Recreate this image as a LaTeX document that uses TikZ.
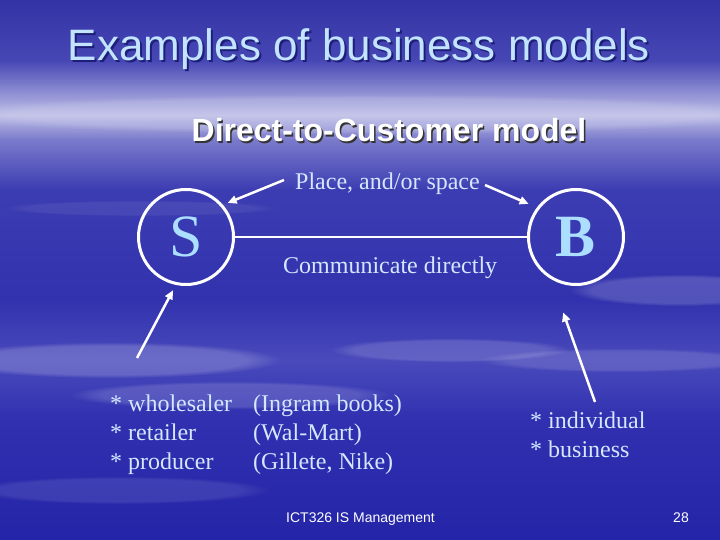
\documentclass[tikz,border=0pt]{standalone}
\usepackage{fontspec}
\setmainfont{Liberation Serif}
\newfontfamily\arialf{Liberation Sans}
\usetikzlibrary{arrows.meta,fadings}
\definecolor{skytop}{HTML}{3333A6}
\definecolor{skyA}{HTML}{4646B4}
\definecolor{skyB}{HTML}{9494D6}
\definecolor{skyC}{HTML}{BCBCE6}
\definecolor{skyD}{HTML}{7A7ACC}
\definecolor{skyE}{HTML}{3C3CB2}
\definecolor{skyF}{HTML}{3232AE}
\definecolor{skyG}{HTML}{4A4ABC}
\definecolor{skyH}{HTML}{3030B0}
\definecolor{skybot}{HTML}{2424A8}
\definecolor{textblue}{HTML}{D2E8FF}
\definecolor{letterblue}{HTML}{ACDEFF}
\definecolor{titleblue}{HTML}{C2E4FF}
\definecolor{titleshadow}{HTML}{1E1E78}
\pgfdeclareverticalshading{sky}{100bp}{color(0bp)=(skybot); color(25bp)=(skybot); color(36.11bp)=(skyH); color(41.67bp)=(skyG); color(47.22bp)=(skyF); color(57.41bp)=(skyE); color(62.04bp)=(skyD); color(64.35bp)=(skyC); color(66.2bp)=(skyB); color(69.44bp)=(skyA); color(75bp)=(skytop); color(100bp)=(skytop)}
\tikzset{
	titletext/.style={font=\arialf\fontsize{44}{50}\selectfont, text=titleblue, inner sep=0pt, anchor=base},
	headtext/.style={font=\arialf\bfseries\fontsize{32}{36}\selectfont, text=white, inner sep=0pt, anchor=base},
	slidetext/.style={font=\fontsize{24}{28.8}\selectfont, text=textblue, inner sep=0pt, anchor=base west, align=left},
	party/.style={circle, draw=white, line width=3pt, minimum size=95pt, inner sep=0pt, text=letterblue, font=\fontsize{60}{60}\selectfont},
	link/.style={draw=white, line width=2.5pt},
	pointer/.style={draw=white, line width=2.5pt, -{Triangle[length=9pt,width=8pt]}},
	cloud/.style={fill=white, path fading=circle with fuzzy edge 20 percent}
}
\begin{document}
\begin{tikzpicture}[x=1pt,y=-1pt]
	\useasboundingbox (0,0) rectangle (720,540);
	\shade[shading=sky] (0,0) rectangle (720,540);
	
	\fill[cloud, fill opacity=0.15] (360,114) ellipse (430 and 20);
	\fill[cloud, fill opacity=0.18] (110,360) ellipse (170 and 18);
	\fill[cloud, fill opacity=0.15] (230,395) ellipse (160 and 14);
	\fill[cloud, fill opacity=0.14] (450,350) ellipse (120 and 12);
	\fill[cloud, fill opacity=0.16] (680,290) ellipse (110 and 16);
	\fill[cloud, fill opacity=0.12] (620,360) ellipse (140 and 12);
	\fill[cloud, fill opacity=0.10] (120,490) ellipse (150 and 14);
	\fill[cloud, fill opacity=0.07] (140,208) ellipse (140 and 8);
	
	\node[titletext, text=titleshadow] (titleshade) at (361,63) {Examples of business models};
	\node[titletext] (title) at (359,61) {Examples of business models};
	\node[headtext, text=black!80] (headshade) at (390.5,143.5) {Direct-to-Customer model};
	\node[headtext] (head) at (389,142) {Direct-to-Customer model};
	
	\node[party] (S) at (186,237) {S};
	\node[party, font=\bfseries\fontsize{60}{60}\selectfont] (B) at (576,237) {B};
	\draw[link] (S) -- (B);
	
	\node[slidetext] (place) at (295,190) {Place, and/or space};
	\node[slidetext] (direct) at (283,273) {Communicate directly};
	\coordinate (placeL) at (284,180);
	\coordinate (placeR) at (485,185);
	\draw[pointer, shorten >=5pt] (placeL) -- (S.41);
	\draw[pointer, shorten >=9pt] (placeR) -- (B.143.5);
	
	\node[slidetext] (sellers) at (110,469) {* wholesaler\\* retailer\\* producer};
	\node[slidetext] (examples) at (253,469) {(Ingram books)\\(Wal-Mart)\\(Gillete, Nike)};
	\node[slidetext] (buyers) at (530,457) {* individual\\* business};
	\coordinate (sellersUp) at (137,358);
	\coordinate (buyersUp) at (595,402);
	\draw[pointer, shorten >=6pt] (sellersUp) -- (S.258);
	\draw[pointer, shorten >=35pt] (buyersUp) -- (B.240);
	
	\node[font=\arialf\fontsize{14}{16}\selectfont, text=white, inner sep=0pt, anchor=base west] (footer) at (286,522) {ICT326 IS Management};
	\node[font=\arialf\fontsize{14}{16}\selectfont, text=white, inner sep=0pt, anchor=base east] (pageno) at (689,522) {28};
\end{tikzpicture}
\end{document}
